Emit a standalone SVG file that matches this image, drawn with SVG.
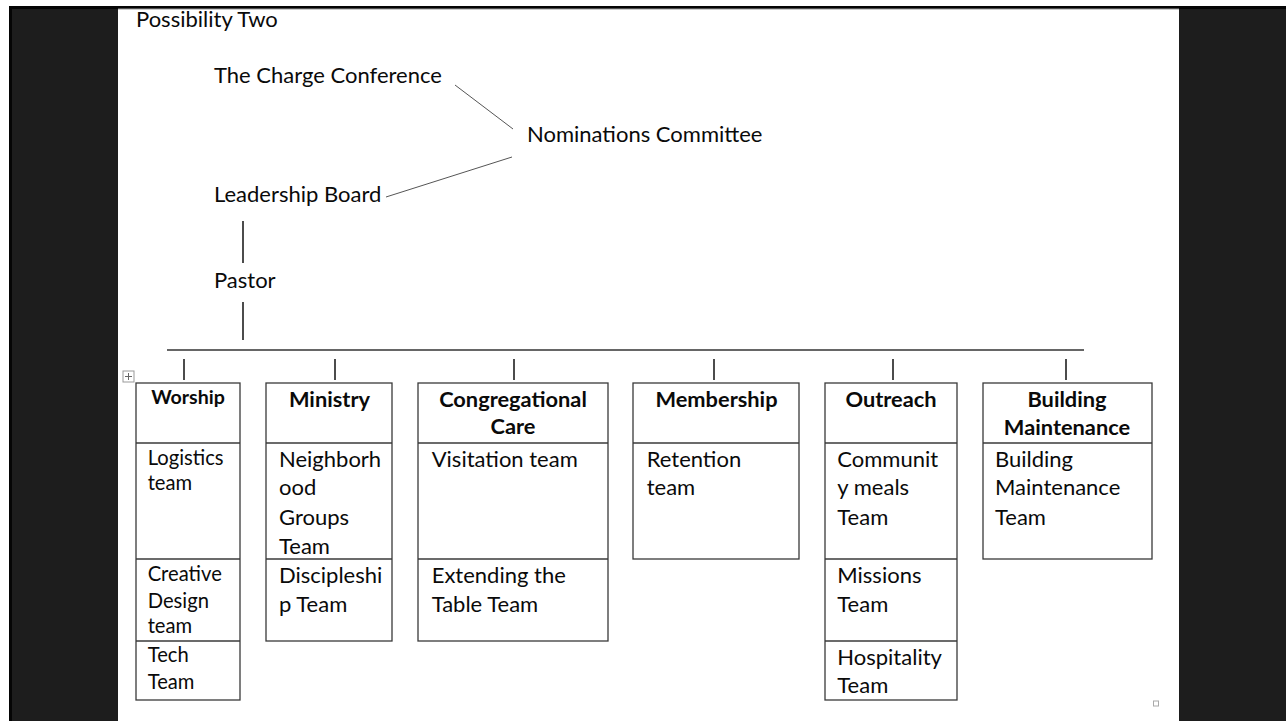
<svg xmlns="http://www.w3.org/2000/svg" width="1286" height="721" viewBox="0 0 1286 721">
<style>
text{font-family:Lato,"Noto Sans","Liberation Sans",sans-serif;fill:#0a0a0a}
.t{font-size:22px}
.s{font-size:20.2px}
.h{font-size:21.8px;font-weight:bold;text-anchor:middle}
.hs{font-size:19.6px;font-weight:bold;text-anchor:middle}
.box{fill:none;stroke:#3a3a3a;stroke-width:1.3}
.v{stroke:#111;stroke-width:1.5}
.d{stroke:#555;stroke-width:1}
</style>
<rect x="0" y="0" width="1286" height="721" fill="#fff"/>
<rect x="9" y="6" width="1277" height="715" fill="#1d1d1d"/>
<rect x="9" y="6" width="3" height="715" fill="#050505"/>
<rect x="118" y="9" width="1061" height="712" fill="#fff"/>
<rect x="9" y="6" width="1277" height="3" fill="#050505"/>
<rect x="118" y="8.5" width="1061" height="1" fill="#999"/>

<g id="title"><text class="t" x="136" y="27">Possibility Two</text></g>
<g id="charge-conference"><text class="t" x="214" y="83.3">The Charge Conference</text></g>
<g id="nominations-committee"><text class="t" x="527" y="142">Nominations Committee</text></g>
<g id="leadership-board"><text class="t" x="214" y="201.5">Leadership Board</text></g>
<g id="pastor"><text class="t" x="214" y="288.3">Pastor</text></g>

<g id="connectors">
<line class="d" x1="455" y1="85" x2="513" y2="129"/>
<line class="d" x1="386" y1="197" x2="512" y2="157"/>
<line class="v" x1="243" y1="221" x2="243" y2="263"/>
<line class="v" x1="243" y1="302" x2="243" y2="340"/>
<line x1="167" y1="350" x2="1084" y2="350" stroke="#333" stroke-width="1.4"/>
<line class="v" x1="184" y1="359" x2="184" y2="380"/>
<line class="v" x1="335" y1="359" x2="335" y2="380"/>
<line class="v" x1="514" y1="359" x2="514" y2="380"/>
<line class="v" x1="714" y1="359" x2="714" y2="380"/>
<line class="v" x1="893" y1="359" x2="893" y2="380"/>
<line class="v" x1="1066" y1="359" x2="1066" y2="380"/>
</g>

<g id="table-handle">
<rect x="123" y="371" width="11" height="11" fill="#fff" stroke="#999" stroke-width="1"/>
<path d="M128.5 373v7M125 376.5h7" stroke="#666" stroke-width="1"/>
</g>
<g id="end-marker"><rect x="1153.5" y="701" width="5" height="5" fill="#fff" stroke="#aaa" stroke-width="1"/></g>

<g id="worship">
<rect class="box" x="136" y="383" width="104" height="317"/>
<line class="box" x1="136" y1="443" x2="240" y2="443"/>
<line class="box" x1="136" y1="559" x2="240" y2="559"/>
<line class="box" x1="136" y1="641" x2="240" y2="641"/>
<text class="hs" x="188" y="404">Worship</text>
<text class="s" x="147.7" y="465">Logistics</text>
<text class="s" x="147.7" y="490">team</text>
<text class="s" x="147.7" y="581">Creative</text>
<text class="s" x="147.7" y="607.7">Design</text>
<text class="s" x="147.7" y="633.3">team</text>
<text class="s" x="147.7" y="662.3">Tech</text>
<text class="s" x="147.7" y="689">Team</text>
</g>

<g id="ministry">
<rect class="box" x="266" y="383" width="126" height="258"/>
<line class="box" x1="266" y1="443" x2="392" y2="443"/>
<line class="box" x1="266" y1="559" x2="392" y2="559"/>
<text class="h" x="329.5" y="406.7">Ministry</text>
<text class="t" x="279" y="467.3">Neighborh</text>
<text class="t" x="279" y="495">ood</text>
<text class="t" x="279" y="525">Groups</text>
<text class="t" x="279" y="554">Team</text>
<text class="t" x="279" y="583.3">Discipleshi</text>
<text class="t" x="279" y="611.7">p Team</text>
</g>

<g id="congregational-care">
<rect class="box" x="418" y="383" width="190" height="258"/>
<line class="box" x1="418" y1="443" x2="608" y2="443"/>
<line class="box" x1="418" y1="559" x2="608" y2="559"/>
<text class="h" x="513" y="406.7">Congregational</text>
<text class="h" x="513" y="434">Care</text>
<text class="t" x="431.7" y="467.3">Visitation team</text>
<text class="t" x="431.7" y="583.3">Extending the</text>
<text class="t" x="431.7" y="611.7">Table Team</text>
</g>

<g id="membership">
<rect class="box" x="633" y="383" width="166" height="176"/>
<line class="box" x1="633" y1="443" x2="799" y2="443"/>
<text class="h" x="716.5" y="406.7">Membership</text>
<text class="t" x="646.7" y="467.3">Retention</text>
<text class="t" x="646.7" y="495">team</text>
</g>

<g id="outreach">
<rect class="box" x="825" y="383" width="132" height="317"/>
<line class="box" x1="825" y1="443" x2="957" y2="443"/>
<line class="box" x1="825" y1="559" x2="957" y2="559"/>
<line class="box" x1="825" y1="641" x2="957" y2="641"/>
<text class="h" x="891" y="406.7">Outreach</text>
<text class="t" x="837.3" y="467.3">Communit</text>
<text class="t" x="837.3" y="495">y meals</text>
<text class="t" x="837.3" y="525">Team</text>
<text class="t" x="837.3" y="583.3">Missions</text>
<text class="t" x="837.3" y="612.3">Team</text>
<text class="t" x="837.3" y="665">Hospitality</text>
<text class="t" x="837.3" y="693.3">Team</text>
</g>

<g id="building-maintenance">
<rect class="box" x="983" y="383" width="169" height="176"/>
<line class="box" x1="983" y1="443" x2="1152" y2="443"/>
<text class="h" x="1067" y="406.7">Building</text>
<text class="h" x="1067" y="435">Maintenance</text>
<text class="t" x="995" y="467.3">Building</text>
<text class="t" x="995" y="495">Maintenance</text>
<text class="t" x="995" y="525">Team</text>
</g>
</svg>
